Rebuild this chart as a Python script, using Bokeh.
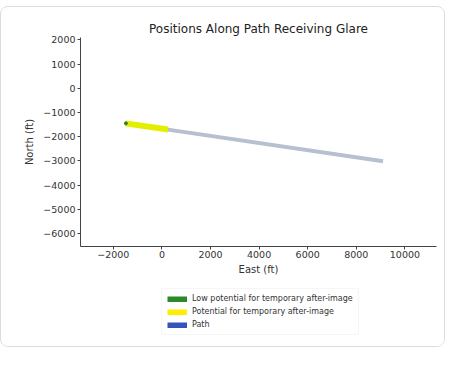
from bokeh.plotting import figure
from bokeh.models import Range1d, FixedTicker, Legend, LegendItem, Title, Spacer
from bokeh.layouts import column
from bokeh.embed import file_html
from bokeh.resources import INLINE

# Data (feet)
path_east = [-1500, 9100]
path_north = [-1450, -3020]
glare_east = [-1500, 250]
glare_north = [-1450, -1700]
low_east = [-1480]
low_north = [-1450]
x_ticks = [-2000, 0, 2000, 4000, 6000, 8000, 10000]
y_ticks = [-6000, -5000, -4000, -3000, -2000, -1000, 0, 1000, 2000]
legend_labels = ["Low potential for temporary after-image",
                 "Potential for temporary after-image", "Path"]
legend_colors = ["#2a8a2a", "#ffee00", "#3355bb"]

FONT = "DejaVu Sans"

p = figure(width=443, height=277, output_backend="svg", toolbar_location=None,
           x_range=Range1d(-3350, 11300), y_range=Range1d(-6540, 2100),
           min_border_left=79, min_border_right=8, min_border_top=30, min_border_bottom=38)
p.outline_line_color = None
p.grid.visible = False
p.background_fill_color = "white"
p.border_fill_color = "white"

p.title = Title(text="Positions Along Path Receiving Glare", align="center",
                text_font=FONT, text_font_size="12px", text_font_style="normal",
                text_color="#222222", vertical_align="bottom", standoff=4)

for ax in (p.xaxis[0], p.yaxis[0]):
    ax.axis_line_color = "#444444"
    ax.major_tick_line_color = "#444444"
    ax.major_tick_out = 3
    ax.major_tick_in = 0
    ax.minor_tick_line_color = None
    ax.major_label_text_font = FONT
    ax.major_label_text_font_size = "9.5px"
    ax.major_label_text_color = "#333333"
    ax.axis_label_text_font = FONT
    ax.axis_label_text_font_size = "10px"
    ax.axis_label_text_font_style = "normal"
    ax.axis_label_text_color = "#333333"
p.xaxis.ticker = FixedTicker(ticks=x_ticks)
p.yaxis.ticker = FixedTicker(ticks=y_ticks)
p.xaxis.axis_label = "East (ft)"
p.yaxis.axis_label = "North (ft)"
p.xaxis.major_label_standoff = 1
p.yaxis.major_label_standoff = 2
p.xaxis.axis_label_standoff = 3
p.yaxis.axis_label_standoff = 5

p.line(path_east, path_north, line_color="#b7c0d0", line_width=4)
p.line(glare_east, glare_north, line_color="#e4ef00", line_width=6)
p.scatter(low_east, low_north, size=3, color="#2e7d2e")

# legend figure
lf = figure(width=443, height=62, output_backend="svg", toolbar_location=None,
            x_range=Range1d(0, 1), y_range=Range1d(0, 1),
            min_border=0, min_border_left=0, min_border_right=0,
            min_border_top=0, min_border_bottom=0)
lf.axis.visible = False
lf.grid.visible = False
lf.outline_line_color = None
lf.background_fill_color = "white"
lf.border_fill_color = "white"

items = []
for lab, col in zip(legend_labels, legend_colors):
    r = lf.line([5, 6], [5, 6], line_color=col, line_width=6)
    items.append(LegendItem(label=lab, renderers=[r]))

legend = Legend(items=items, location=(81, 11), orientation="vertical",
                label_text_font=FONT, label_text_font_size="8px", label_text_color="#333333",
                glyph_width=20, glyph_height=6, label_height=8, spacing=4, padding=5,
                border_line_color="#eeeeee", background_fill_color="white", margin=0)
lf.add_layout(legend, "center")

card = column(p, lf, spacing=0)
card.styles = {"border": "1.5px solid #dcdcdc", "border-radius": "8px",
               "background-color": "white", "overflow": "hidden"}

layout = column(Spacer(height=6), card, spacing=0)

open("out.html", "w").write(file_html(layout, INLINE))
